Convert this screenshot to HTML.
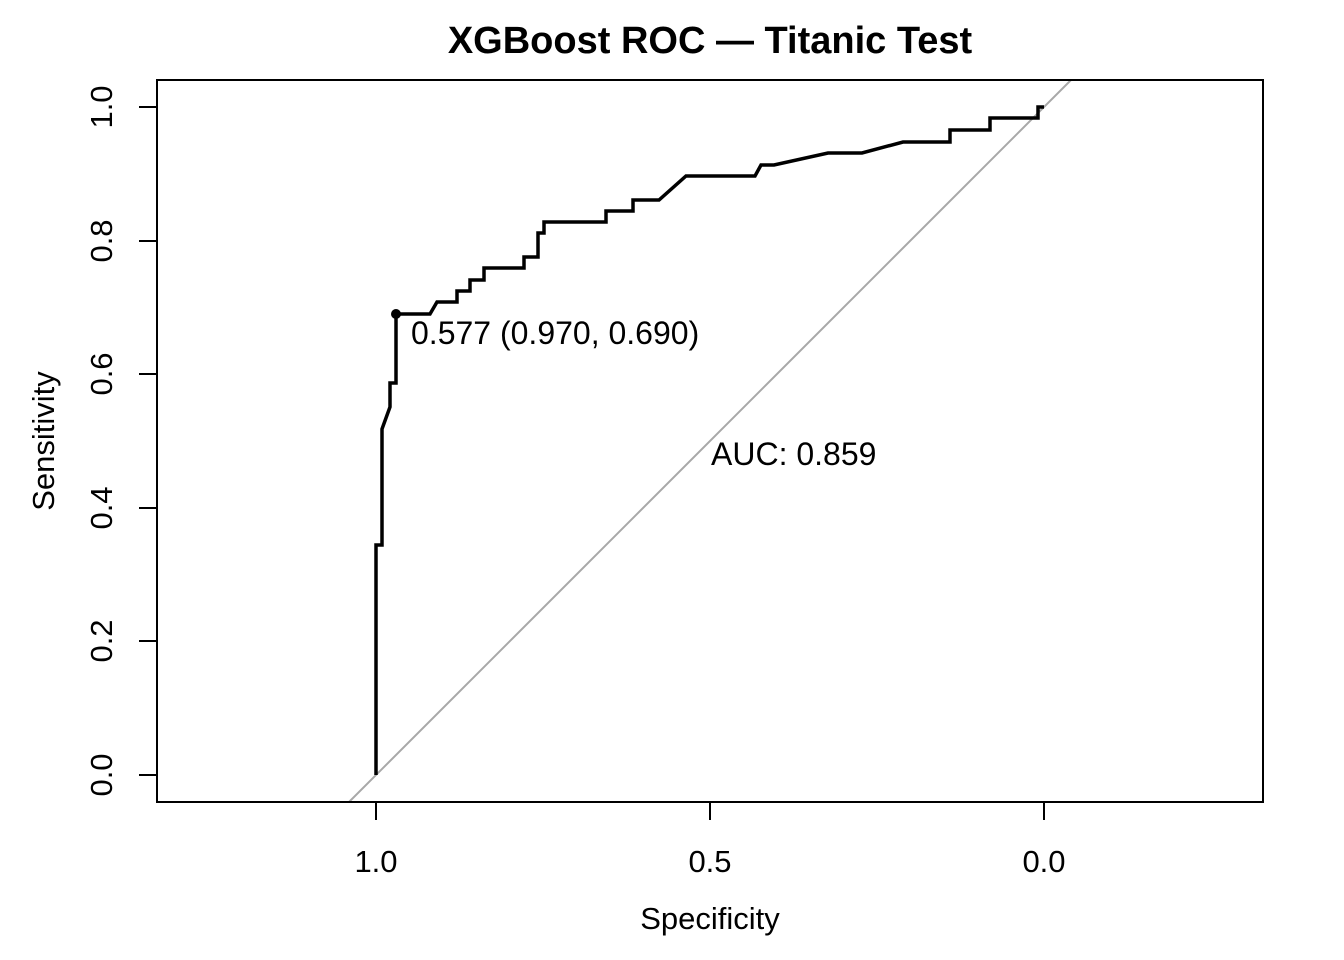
<!DOCTYPE html>
<html><head><meta charset="utf-8"><style>body{margin:0;background:#fff}svg{display:block}</style></head><body>
<svg width="1344" height="960" xmlns="http://www.w3.org/2000/svg" font-family="Liberation Sans, Arial, sans-serif">
<rect width="1344" height="960" fill="#fff"/>
<defs><clipPath id="c"><rect x="157" y="80" width="1106" height="722"/></clipPath></defs>
<line x1="349" y1="802" x2="1071" y2="80" stroke="#a8a8a8" stroke-width="2" clip-path="url(#c)"/>
<path d="M376,775 L376,545 L382,545 L382,429 L390,407 L390,383 L396,383 L396,314 L430,314 L437,302 L457,302 L457,291 L470,291 L470,280 L484,280 L484,268 L524,268 L524,257 L538,257 L538,233 L544,233 L544,222 L606,222 L606,211 L633,211 L633,200 L659,200 L686,176 L755,176 L761,165 L774,165 L828,153 L862,153 L903,142 L950,142 L950,130 L990,130 L990,118 L1038,118 L1038,107 L1044,107" fill="none" stroke="#000" stroke-width="3.5" stroke-linejoin="miter"/>
<circle cx="396" cy="314" r="5" fill="#000"/>
<rect x="157" y="80" width="1106" height="722" fill="none" stroke="#000" stroke-width="2"/>
<g stroke="#000" stroke-width="2">
<line x1="376" y1="802" x2="376" y2="820"/><line x1="710" y1="802" x2="710" y2="820"/><line x1="1044" y1="802" x2="1044" y2="820"/>
<line x1="139" y1="775" x2="157" y2="775"/><line x1="139" y1="641" x2="157" y2="641"/><line x1="139" y1="508" x2="157" y2="508"/><line x1="139" y1="374" x2="157" y2="374"/><line x1="139" y1="241" x2="157" y2="241"/><line x1="139" y1="107" x2="157" y2="107"/>
</g>
<g font-size="31" text-anchor="middle" fill="#000">
<text x="376" y="872">1.0</text><text x="710" y="872">0.5</text><text x="1044" y="872">0.0</text>
<text transform="translate(112,775) rotate(-90)">0.0</text>
<text transform="translate(112,641) rotate(-90)">0.2</text>
<text transform="translate(112,508) rotate(-90)">0.4</text>
<text transform="translate(112,374) rotate(-90)">0.6</text>
<text transform="translate(112,241) rotate(-90)">0.8</text>
<text transform="translate(112,107) rotate(-90)">1.0</text>
<text x="710" y="929">Specificity</text>
<text transform="translate(54,441) rotate(-90)">Sensitivity</text>
</g>
<text x="710" y="53" font-size="38" font-weight="bold" text-anchor="middle">XGBoost ROC — Titanic Test</text>
<text x="411" y="344" font-size="32">0.577 (0.970, 0.690)</text>
<text x="711" y="465" font-size="32">AUC: 0.859</text>
</svg>
</body></html>
